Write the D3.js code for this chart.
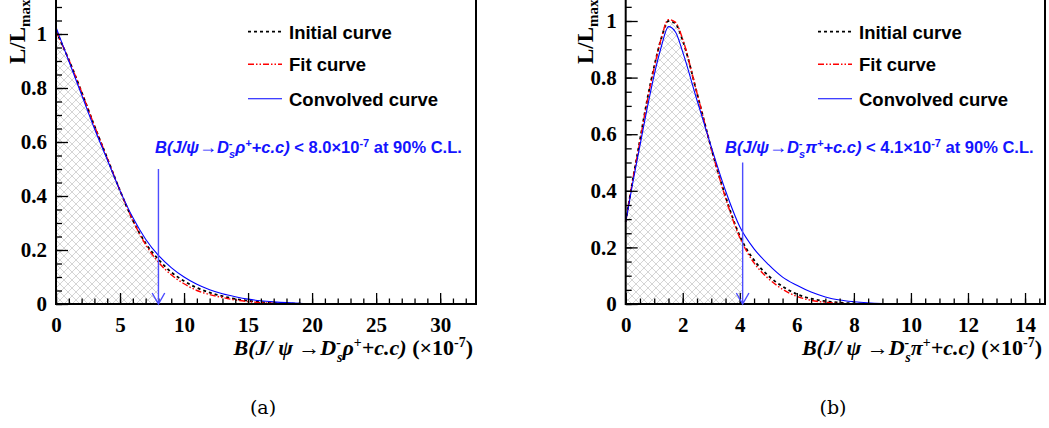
<!DOCTYPE html>
<html>
<head>
<meta charset="utf-8">
<script src="https://cdn.jsdelivr.net/npm/d3@7"></script>
<style>
  body { margin: 0; background: #fff; }
  svg { display: block; }
</style>
</head>
<body>
<div id="chart"></div>
<script>
// panel (a): J/psi -> Ds rho
var rhoX        = [0, 1, 2, 3, 4, 5, 6, 7, 8, 9, 10, 11, 12, 13, 14, 15, 16, 17, 18, 19, 20, 22, 25, 30];
var rhoInitial  = [1.01, 0.905, 0.785, 0.66, 0.54, 0.42, 0.31, 0.225, 0.165, 0.118, 0.085, 0.06, 0.042, 0.029, 0.019, 0.012, 0.007, 0.004, 0.002, 0.001, 0.0005, 0, 0, 0];
var rhoFit      = [1.01, 0.905, 0.785, 0.66, 0.54, 0.42, 0.31, 0.22, 0.155, 0.108, 0.075, 0.05, 0.035, 0.024, 0.015, 0.009, 0.005, 0.003, 0.0015, 0.0005, 0, 0, 0, 0];
var rhoConv     = [1.025, 0.90, 0.775, 0.65, 0.535, 0.42, 0.32, 0.24, 0.18, 0.135, 0.10, 0.073, 0.053, 0.038, 0.027, 0.018, 0.012, 0.008, 0.005, 0.003, 0.0015, 0.0005, 0, 0];
var rhoLimit = 8.0;

// panel (b): J/psi -> Ds pi
var piX        = [0, 0.25, 0.5, 0.75, 1, 1.25, 1.5, 1.75, 2, 2.5, 3, 3.5, 4, 4.5, 5, 5.5, 6, 6.5, 7, 7.5, 8, 9, 10, 11, 13.4];
var piInitial  = [0.29, 0.44, 0.58, 0.72, 0.84, 0.94, 1.0, 0.99, 0.93, 0.745, 0.55, 0.38, 0.24, 0.155, 0.10, 0.062, 0.035, 0.019, 0.01, 0.005, 0.002, 0, 0, 0, 0];
var piFit      = [0.29, 0.44, 0.575, 0.715, 0.835, 0.94, 1.005, 0.995, 0.935, 0.745, 0.55, 0.375, 0.235, 0.145, 0.09, 0.052, 0.027, 0.013, 0.006, 0.002, 0, 0, 0, 0, 0];
var piConv     = [0.29, 0.43, 0.56, 0.69, 0.81, 0.91, 0.98, 0.96, 0.89, 0.72, 0.555, 0.40, 0.273, 0.195, 0.14, 0.095, 0.066, 0.042, 0.025, 0.014, 0.008, 0.002, 0.0005, 0, 0];
var piLimit = 4.1;

var legendNames = ["Initial curve", "Fit curve", "Convolved curve"];

var width = 1049;
var height = 428;
var serif = "Liberation Serif, Times New Roman, Times, serif";
var sans = "Liberation Sans, Arial, Helvetica, sans-serif";

var svg = d3.select("#chart").append("svg")
    .attr("width", width)
    .attr("height", height);

var defs = svg.append("defs");
var pat = defs.append("pattern")
    .attr("id", "hatch")
    .attr("patternUnits", "userSpaceOnUse")
    .attr("width", 8)
    .attr("height", 8);
pat.append("path")
    .attr("d", "M0,0L8,8M8,0L0,8M-1,7L1,9M7,-1L9,1")
    .attr("stroke", "#d0d0d0")
    .attr("stroke-width", 0.9);

var styles = [
    {color: "#000", width: 1.8, dash: "3,3"},
    {color: "#f00", width: 1.4, dash: "6,2,1.5,2,1.5,2"},
    {color: "#00f", width: 1.1, dash: null}
];

function drawPanel(cfg) {
    var x = d3.scaleLinear().domain([0, cfg.xmax]).range([cfg.left, cfg.right]);
    var y = d3.scaleLinear().domain([0, 1.2]).range([304, 304 - 1.2 * cfg.ppu]);

    var g = svg.append("g");

    // hatched area under the fit curve up to the limit
    var clipId = "clip" + cfg.name;
    defs.append("clipPath").attr("id", clipId)
        .append("rect")
        .attr("x", x(0)).attr("y", 0)
        .attr("width", x(cfg.limit) - x(0)).attr("height", 304);

    var pts = function(vals) { return cfg.xs.map(function(d, i) { return [d, vals[i]]; }); };

    var area = d3.area()
        .x(function(d) { return x(d[0]); })
        .y0(y(0))
        .y1(function(d) { return y(d[1]); })
        .curve(d3.curveMonotoneX);

    g.append("path")
        .datum(pts(cfg.fit))
        .attr("d", area)
        .attr("fill", "url(#hatch)")
        .attr("clip-path", "url(#" + clipId + ")");

    var line = d3.line()
        .x(function(d) { return x(d[0]); })
        .y(function(d) { return y(d[1]); })
        .curve(d3.curveMonotoneX);

    [cfg.initial, cfg.fit, cfg.conv].forEach(function(vals, i) {
        g.append("path")
            .datum(pts(vals))
            .attr("d", line)
            .attr("fill", "none")
            .attr("stroke", styles[i].color)
            .attr("stroke-width", styles[i].width)
            .attr("stroke-dasharray", styles[i].dash);
    });

    // axes, ticks drawn inside the frame
    var xAxis = d3.axisBottom(x).tickValues(d3.range(0, cfg.xmax, cfg.xmajor))
        .tickSizeInner(-11).tickSizeOuter(0).tickPadding(13)
        .tickFormat(d3.format("d"));
    var xMinor = d3.axisBottom(x).tickValues(d3.range(0, cfg.xmax, cfg.xminor))
        .tickSizeInner(-5.5).tickSizeOuter(0).tickFormat("");
    var yAxis = d3.axisLeft(y).tickValues([0, 0.2, 0.4, 0.6, 0.8, 1, 1.2])
        .tickSizeInner(-12).tickSizeOuter(0).tickPadding(9)
        .tickFormat(function(d) { return d > 1 ? "" : d3.format("")(d); });
    var yMinor = d3.axisLeft(y).tickValues(d3.range(0, 1.2, 0.05))
        .tickSizeInner(-6).tickSizeOuter(0).tickFormat("");

    [xMinor, xAxis].forEach(function(ax) {
        g.append("g").attr("transform", "translate(0,304)").call(ax);
    });
    [yMinor, yAxis].forEach(function(ax) {
        g.append("g").attr("transform", "translate(" + cfg.left + ",0)").call(ax);
    });
    g.selectAll(".domain").remove();
    g.selectAll(".tick line").attr("stroke", "#000").attr("stroke-width", 1.3);
    g.selectAll(".tick text")
        .attr("font-family", serif)
        .attr("font-weight", "bold")
        .attr("font-size", 21)
        .attr("fill", "#000");

    // frame
    g.append("rect")
        .attr("x", cfg.left).attr("y", y(1.2))
        .attr("width", cfg.right - cfg.left).attr("height", 304 - y(1.2))
        .attr("fill", "none").attr("stroke", "#000").attr("stroke-width", 2);

    // legend
    legendNames.forEach(function(name, i) {
        var ly = [31.7, 64.3, 98.7][i];
        g.append("line")
            .attr("x1", cfg.legX).attr("x2", cfg.legX + 34)
            .attr("y1", ly).attr("y2", ly)
            .attr("stroke", styles[i].color)
            .attr("stroke-width", styles[i].width)
            .attr("stroke-dasharray", styles[i].dash);
        g.append("text")
            .attr("x", cfg.legX + 41).attr("y", ly + 6.8)
            .attr("font-family", sans)
            .attr("font-weight", "bold")
            .attr("font-size", 18.5)
            .text(name);
    });

    // upper limit arrow
    var ax = x(cfg.limit);
    g.append("path")
        .attr("d", "M" + ax + "," + y(0.5) + "L" + ax + "," + y(0) +
            "M" + (ax - 6.3) + "," + (y(0) - 11) + "L" + ax + "," + y(0) + "L" + (ax + 6.3) + "," + (y(0) - 11))
        .attr("fill", "none")
        .attr("stroke", "#4d4dff")
        .attr("stroke-width", 1.4);

    // annotation
    var t = g.append("text")
        .attr("x", cfg.noteX).attr("y", 153)
        .attr("font-family", sans)
        .attr("font-weight", "bold")
        .attr("font-style", "italic")
        .attr("font-size", 16.5)
        .attr("fill", "#1414ff");
    t.append("tspan").text("B(J/\u03c8");
    t.append("tspan").attr("font-size", 18).attr("font-style", "normal").text("\u2192");
    t.append("tspan").text("D");
    t.append("tspan").attr("font-size", 11).attr("dy", -6).text("-");
    t.append("tspan").attr("font-size", 11).attr("dx", -3.5).attr("dy", 11).text("s");
    t.append("tspan").attr("dy", -5).text(cfg.particle);
    t.append("tspan").attr("font-size", 11).attr("dy", -6).text("+");
    t.append("tspan").attr("dy", 6).text("+c.c)");
    t.append("tspan").attr("font-style", "normal").text(" < " + cfg.limit.toFixed(1) + "\u00d710");
    t.append("tspan").attr("font-style", "normal").attr("font-size", 11).attr("dy", -6).text("-7");
    t.append("tspan").attr("font-style", "normal").attr("dy", 6).text(" at 90% C.L.");

    // x title
    var xt = g.append("text")
        .attr("x", cfg.right - 3).attr("y", 355)
        .attr("text-anchor", "end")
        .attr("font-family", serif)
        .attr("font-weight", "bold")
        .attr("font-size", 22);
    xt.append("tspan").attr("font-style", "italic").text("B(J/ \u03c8 \u2192D");
    xt.append("tspan").attr("font-style", "italic").attr("font-size", 14).attr("dy", -8).text("-");
    xt.append("tspan").attr("font-style", "italic").attr("font-size", 14).attr("dx", -4).attr("dy", 15).text("s");
    xt.append("tspan").attr("font-style", "italic").attr("dy", -7).text(cfg.particle);
    xt.append("tspan").attr("font-size", 14).attr("dy", -8).text("+");
    xt.append("tspan").attr("font-style", "italic").attr("dy", 8).text("+c.c)");
    xt.append("tspan").text(" (\u00d710");
    xt.append("tspan").attr("font-size", 14).attr("dy", -8).text("-7");
    xt.append("tspan").attr("dy", 8).text(")");

    // y title
    var yt = g.append("text")
        .attr("transform", "translate(" + cfg.yTitleX + ",64) rotate(-90)")
        .attr("font-family", serif)
        .attr("font-weight", "bold")
        .attr("font-size", 23);
    yt.append("tspan").text("L/L");
    yt.append("tspan").attr("font-size", 15).attr("dy", 5).text("max");

    // caption
    svg.append("text")
        .attr("x", cfg.capX).attr("y", 414)
        .attr("text-anchor", "middle")
        .attr("font-family", "DejaVu Serif, serif")
        .attr("font-size", 19)
        .text(cfg.caption);
}

drawPanel({
    name: "a", xs: rhoX, initial: rhoInitial, fit: rhoFit, conv: rhoConv, limit: rhoLimit,
    left: 56, right: 476, xmax: 32.8, xmajor: 5, xminor: 1, ppu: 270,
    legX: 248, noteX: 155, yTitleX: 25, capX: 263, caption: "(a)", particle: "\u03c1"
});
drawPanel({
    name: "b", xs: piX, initial: piInitial, fit: piFit, conv: piConv, limit: piLimit,
    left: 625.7, right: 1045, xmax: 14.7, xmajor: 2, xminor: 0.5, ppu: 283,
    legX: 818, noteX: 725, yTitleX: 593, capX: 833, caption: "(b)", particle: "\u03c0"
});
</script>
</body>
</html>
